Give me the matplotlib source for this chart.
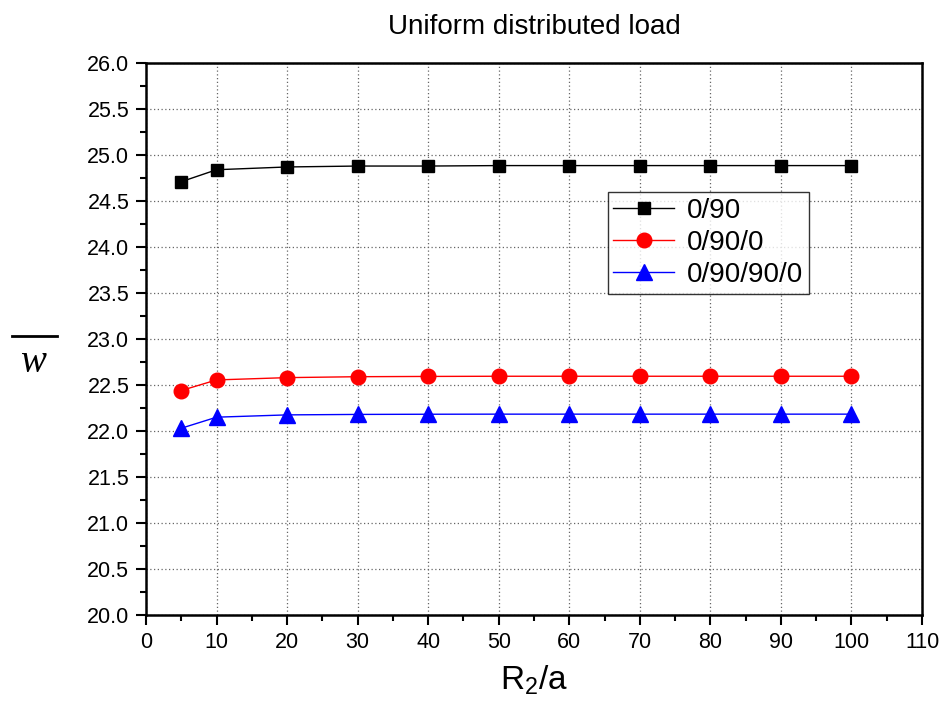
import matplotlib
matplotlib.use("Agg")
import matplotlib.pyplot as plt
from matplotlib.lines import Line2D
from matplotlib.ticker import MultipleLocator, FormatStrFormatter

x = [5, 10, 20, 30, 40, 50, 60, 70, 80, 90, 100]
w_0_90 = [24.71, 24.84, 24.87, 24.88, 24.88, 24.885, 24.885, 24.885, 24.885, 24.885, 24.885]
w_0_90_0 = [22.44, 22.555, 22.58, 22.59, 22.593, 22.595, 22.595, 22.595, 22.595, 22.595, 22.595]
w_0_90_90_0 = [22.03, 22.15, 22.175, 22.18, 22.182, 22.183, 22.183, 22.183, 22.183, 22.183, 22.183]
labels = ["0/90", "0/90/0", "0/90/90/0"]

plt.rcParams['font.family'] = ['Liberation Sans', 'DejaVu Sans']
plt.rcParams['mathtext.fontset'] = 'custom'
plt.rcParams['mathtext.rm'] = 'Liberation Sans'
plt.rcParams['mathtext.it'] = 'Liberation Sans:italic'

fig = plt.figure(figsize=(9.52, 7.08), dpi=100)
ax = fig.add_axes([0.1534, 0.1314, 0.8151, 0.7796])

ax.plot(x, w_0_90, color='black', marker='s', markersize=8.8, lw=1, label=labels[0])
ax.plot(x, w_0_90_0, color='red', marker='o', markersize=10.5, lw=1, label=labels[1])
ax.plot(x, w_0_90_90_0, color='blue', marker='^', markersize=11.5, lw=1, label=labels[2])

ax.set_xlim(0, 110)
ax.set_ylim(20, 26)
ax.xaxis.set_major_locator(MultipleLocator(10))
ax.xaxis.set_minor_locator(MultipleLocator(5))
ax.yaxis.set_major_locator(MultipleLocator(0.5))
ax.yaxis.set_minor_locator(MultipleLocator(0.25))
ax.yaxis.set_major_formatter(FormatStrFormatter('%.1f'))
ax.tick_params(which='major', direction='out', length=7, width=1.5, labelsize=15.5, pad=5)
ax.tick_params(which='minor', direction='out', length=4, width=1.5)
for s in ax.spines.values():
    s.set_linewidth(1.8)
ax.grid(True, which='major', linestyle=(0, (1, 2)), color='#666666', lw=0.9)

ax.set_title("Uniform distributed load", fontsize=20, pad=21)
ax.set_xlabel("R$_\\mathrm{2}$/a", fontsize=24, labelpad=8)

fig.text(33/952, 1 - 362/708, "w", fontsize=28, family='Liberation Serif', style='italic',
         ha='center', va='center')
fig.add_artist(Line2D([12/952, 57/952], [1 - 336/708, 1 - 336/708], color='black', lw=2,
                      transform=fig.transFigure))

leg = ax.legend(loc='upper left', bbox_to_anchor=(0.595, 0.766), fontsize=20,
                frameon=True, fancybox=False, edgecolor='black', handlelength=2.2,
                borderpad=0.2, labelspacing=0.22, handletextpad=0.45, borderaxespad=0)
leg.get_frame().set_linewidth(1.0)

fig.savefig("out.png", dpi=100)
